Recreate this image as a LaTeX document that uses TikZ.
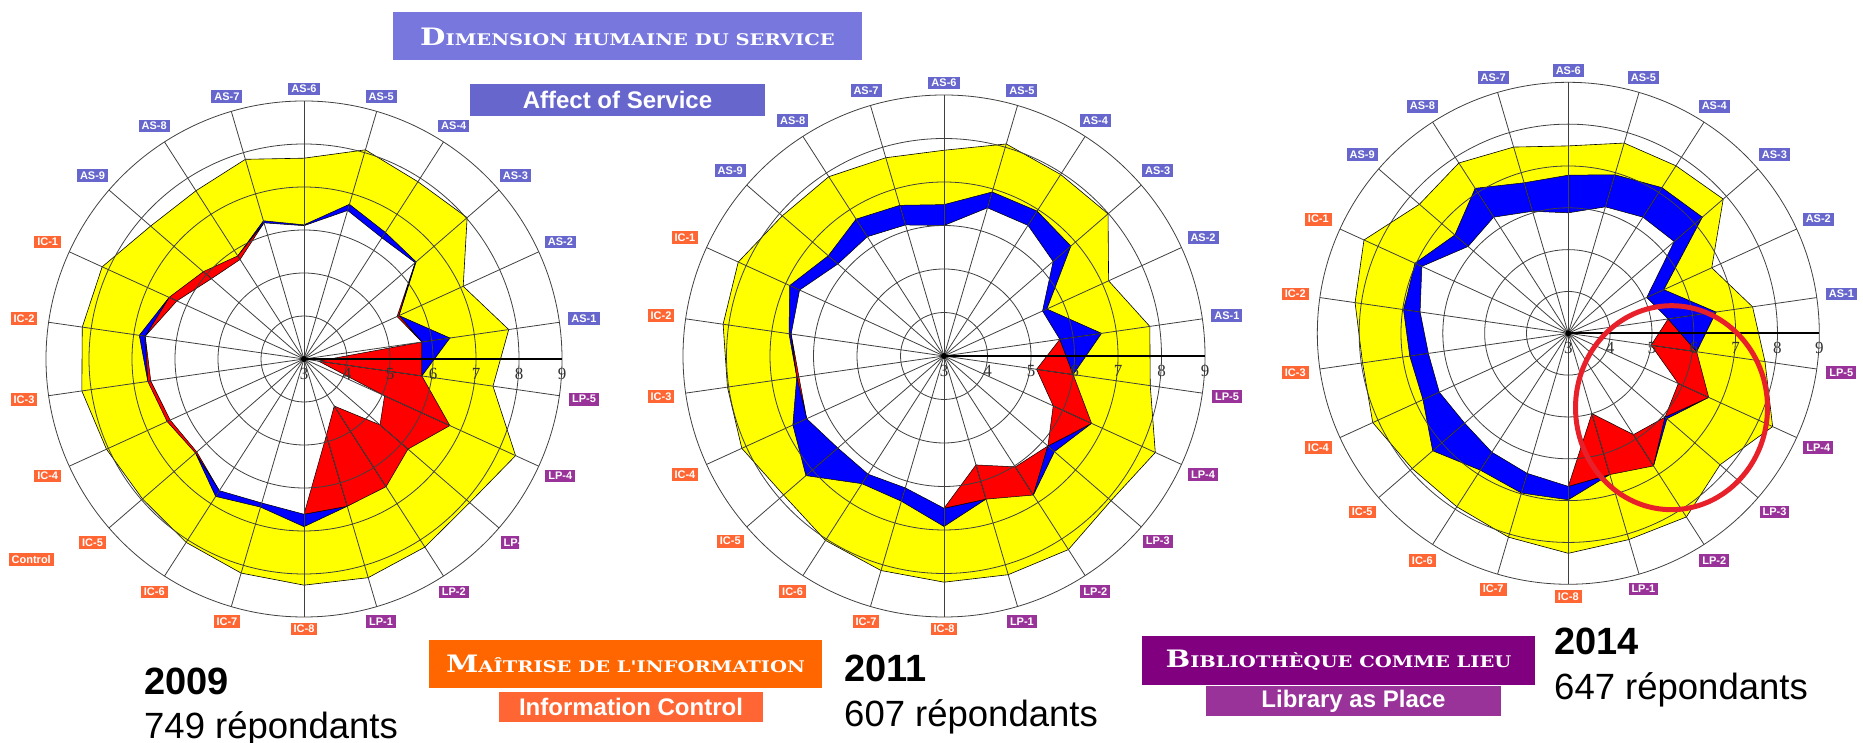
\documentclass[tikz,border=0pt]{standalone}
\usepackage{fontspec}
\usepackage{graphicx}
\setmainfont{Liberation Sans}
\newfontfamily\scfont{DejaVu Serif}
\newfontfamily\tickfont{Liberation Serif}
\usetikzlibrary{positioning}

\definecolor{asblue}{HTML}{6666CC}
\definecolor{icorange}{HTML}{FF6633}
\definecolor{lppurple}{HTML}{993399}
\definecolor{dimblue}{HTML}{7777DD}
\definecolor{icdark}{HTML}{FF6600}
\definecolor{lpdark}{HTML}{800080}
\definecolor{gapyellow}{HTML}{FFFF00}
\definecolor{overblue}{HTML}{0000FF}
\definecolor{underred}{HTML}{FF0000}
\definecolor{ringred}{HTML}{E8202A}

% hand made small capitals
\newcommand{\bigsmall}[2]{\scalebox{1.22}[1]{{\scfont\bfseries\fontsize{24}{24}\selectfont #1}{\scfont\bfseries\fontsize{16}{16}\selectfont #2}}}

% AS-1..AS-9, IC-1..IC-8, LP-1..LP-5
\def\desA{{7.81,7.07,8.02,7.90,8.07,7.67,7.84,7.65,7.72,8.16,8.21,8.22,8.05,7.97,8.07,8.19,8.26,8.30,8.20,8.10,8.41,7.44}}
\def\minA{{5.77,5.43,6.42,6.35,6.60,6.10,6.30,5.85,6.10,6.45,6.73,6.67,6.50,6.34,6.64,6.49,6.61,6.57,6.53,6.20,6.73,5.77}}
\def\perA{{6.43,5.38,6.45,6.50,6.75,6.12,6.35,5.75,5.85,6.25,6.87,6.60,6.42,6.30,6.80,6.59,6.90,4.85,4.30,5.34,5.06,3.34}}
\def\desB{{7.78,7.16,7.99,7.96,8.08,7.73,7.75,7.90,7.92,8.20,8.13,8.03,8.11,7.88,8.04,8.14,8.20,8.24,8.29,8.08,8.34,7.79}}
\def\minB{{5.69,5.49,6.32,6.57,6.55,6.00,6.14,6.26,6.23,6.65,6.55,6.42,6.47,6.23,6.23,6.16,6.50,6.43,6.80,6.16,6.73,6.00}}
\def\perB{{6.66,5.60,6.86,6.96,6.93,6.48,6.61,6.74,6.52,6.90,6.60,6.37,6.82,7.20,6.49,6.48,6.92,5.61,6.03,6.36,5.76,5.15}}
\def\desC{{7.45,6.77,7.90,7.76,7.74,7.48,7.64,7.84,7.71,8.37,8.15,7.97,8.14,7.94,7.93,8.08,8.26,8.14,8.22,7.80,8.37,7.75}}
\def\minC{{5.41,5.06,6.35,6.30,6.15,5.88,6.04,6.30,6.17,6.85,6.58,6.38,6.39,6.28,6.38,6.49,6.66,6.52,6.77,6.06,6.69,6.10}}
\def\perC{{6.57,5.51,7.24,7.14,6.95,6.78,6.75,7.12,6.59,7.03,6.98,6.83,6.82,7.29,6.89,6.98,6.98,5.00,5.88,6.12,5.89,5.00}}

% #1 centre, #2 one scale step in pt, #3 desired, #4 minimum, #5 perceived
\newcommand{\radar}[5]{%
  \begin{scope}[shift={#1}, x=#2pt, y=#2pt]
    \foreach \k in {0,...,21}{
      \pgfmathsetmacro\ang{8.1818+16.3636*\k}
      \pgfmathsetmacro\rd{#3[\k]-3}
      \pgfmathsetmacro\rm{#4[\k]-3}
      \pgfmathsetmacro\rp{#5[\k]-3}
      \coordinate (D\k) at (\ang:\rd);
      \coordinate (M\k) at (\ang:\rm);
      \coordinate (P\k) at (\ang:\rp);
    }
    \filldraw[gapyellow, draw=black, line width=0.6pt] (D0) \foreach \k in {1,...,21}{ -- (D\k)} -- cycle;
    \fill[white] (M0) \foreach \k in {1,...,21}{ -- (M\k)} -- cycle;
    \foreach \k in {0,...,21}{
      \pgfmathtruncatemacro\j{mod(\k+1,22)}
      \pgfmathsetmacro\sa{#5[\k]-#4[\k]}
      \pgfmathsetmacro\sb{#5[\j]-#4[\j]}
      \pgfmathsetmacro\sab{\sa*\sb}
      \pgfmathsetmacro\ss{\sa+\sb}
      \ifdim\sa pt>0pt \def\ca{overblue}\else\def\ca{underred}\fi
      \ifdim\sb pt>0pt \def\cb{overblue}\else\def\cb{underred}\fi
      \ifdim\ss pt>0pt \def\cs{overblue}\else\def\cs{underred}\fi
      \ifdim\sab pt<0pt
        \filldraw[patch, fill=\ca] (M\k) -- (P\k) -- (M\j) -- cycle;
        \filldraw[patch, fill=\cb] (M\k) -- (P\j) -- (M\j) -- cycle;
      \else
        \filldraw[patch, fill=\cs] (M\k) -- (P\k) -- (P\j) -- (M\j) -- cycle;
      \fi
    }
    \foreach \r in {1,...,6} \draw[grid] (0,0) circle[radius=\r];
    \foreach \k in {0,...,21} \draw[grid] (0,0) -- ({8.1818+16.3636*\k}:6);
    \draw[line width=2pt] (0,0) -- (6,0);
    \fill (0,0) circle[radius=3pt];
    \foreach \n in {3,...,9} \node[tick] (T\n) at (\n-3,0) {\n};
    \foreach \name [count=\k from 0] in {AS-1,AS-2,AS-3,AS-4,AS-5,AS-6,AS-7,AS-8,AS-9,IC-1,IC-2,IC-3,IC-4,IC-5,IC-6,IC-7,IC-8,LP-1,LP-2,LP-3,LP-4,LP-5}{
      \pgfmathsetmacro\ang{8.1818+16.3636*\k}
      \pgfmathsetmacro\lr{6+(12+13*abs(cos(\ang)))/#2}
      \ifnum\k<9 \def\lc{asbox}\else\ifnum\k<17 \def\lc{icbox}\else\def\lc{lpbox}\fi\fi
      \node[\lc] (L\k) at (\ang:\lr) {\name};
    }
  \end{scope}}

\begin{document}
\begin{tikzpicture}[x=1pt, y=1pt,
    patch/.style={draw=black, line width=0.5pt},
    grid/.style={draw=black!75, line width=0.8pt},
    tick/.style={font=\tickfont\fontsize{17}{17}\selectfont, text=black!80, anchor=north, inner sep=0pt, yshift=-9pt},
    labelbox/.style={font=\bfseries\fontsize{11}{11}\selectfont, text=white, inner xsep=3pt, inner ysep=2.5pt},
    asbox/.style={labelbox, fill=asblue},
    icbox/.style={labelbox, fill=icorange},
    lpbox/.style={labelbox, fill=lppurple},
    titlebox/.style={text=white, inner sep=0pt, minimum width=393pt, minimum height=48pt},
    subbox/.style={text=white, inner sep=0pt, font=\bfseries\fontsize{24}{24}\selectfont, minimum height=30pt},
    year/.style={font=\bfseries\fontsize{38}{38}\selectfont, anchor=base west, inner sep=0pt},
    count/.style={font=\fontsize{36.5}{36.5}\selectfont, anchor=base west, inner sep=0pt}]
  \useasboundingbox (0,0) rectangle (1863,743);

  \begin{scope}
    \clip (0,0) -- (519,0) -- (519,238) -- (1863,238) -- (1863,743) -- (0,743) -- cycle;
    \radar{(304,384)}{43}{\desA}{\minA}{\perA}
  \end{scope}
  \radar{(944,387)}{43.5}{\desB}{\minB}{\perB}
  \radar{(1568.3,409.7)}{41.83}{\desC}{\minC}{\perC}

  \draw[ringred, line width=5pt] (1671.5,335.3) ellipse[x radius=96, y radius=102];

  \node[titlebox, fill=dimblue, minimum width=469pt] (dim) at (627.5,706.5) {\bigsmall{D}{IMENSION HUMAINE DU SERVICE}};
  \node[subbox, fill=asblue, minimum width=295pt, minimum height=32pt, below=23pt of dim, xshift=-10pt] (affect) {Affect of Service};
  \node[titlebox, fill=icdark] (mait) at (625.5,79) {\bigsmall{M}{AÎTRISE DE L'INFORMATION}};
  \node[subbox, fill=icorange, minimum width=264pt, below=4pt of mait, xshift=5.5pt] (infoctrl) {Information Control};
  \node[titlebox, fill=lpdark, minimum height=49pt] (biblio) at (1338.5,82.5) {\bigsmall{B}{IBLIOTHÈQUE COMME LIEU}};
  \node[subbox, fill=lppurple, minimum width=295pt, below=1pt of biblio, xshift=15pt] (place) {Library as Place};

  \node[icbox, anchor=east] (ctrl) at (54,183.5) {Control\hspace{15pt}};

  \node[year] (y2009) at (144,48) {2009};
  \node[count] (n2009) at (144,4.7) {749 répondants};
  \node[year] (y2011) at (844,61.3) {2011};
  \node[count] (n2011) at (844,16.3) {607 répondants};
  \node[year] (y2014) at (1554,88) {2014};
  \node[count] (n2014) at (1554,43) {647 répondants};
\end{tikzpicture}
\end{document}
